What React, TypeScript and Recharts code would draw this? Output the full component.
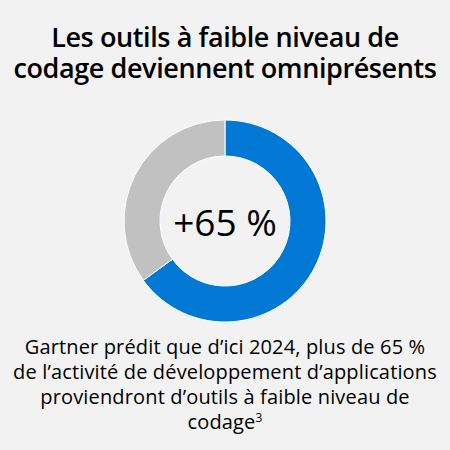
import { PieChart, Pie, Cell, Label } from "recharts";

const sliceNames = ["Outils à faible niveau de codage", "Autres"];
const sliceValues = [65, 35];
const sliceColors = ["#0078d4", "#c1c1c1"];

const titleLines = ["Les outils à faible niveau de", "codage deviennent omniprésents"];
const centerLabel = "+65 %";
const noteLines = [
    "Gartner prédit que d’ici 2024, plus de 65 %",
    "de l’activité de développement d’applications",
    "proviendront d’outils à faible niveau de",
];

const data = sliceNames.map((name, i) => ({ name, value: sliceValues[i] }));

const font = "'Open Sans', 'Noto Sans', sans-serif";

export default function App() {
    return (
        <div
            style={{
                position: "fixed",
                left: 0,
                top: 0,
                width: 450,
                height: 450,
                background: "#f2f2f2",
                fontFamily: font,
                color: "#000",
                overflow: "hidden",
            }}
        >
            <div
                style={{
                    position: "absolute",
                    top: 21,
                    left: 0,
                    width: 450,
                    textAlign: "center",
                    fontSize: 27,
                    fontWeight: 600,
                    lineHeight: "31px",
                    letterSpacing: -0.4,
                }}
            >
                {titleLines.map((l) => (
                    <div key={l}>{l}</div>
                ))}
            </div>

            <div style={{ position: "absolute", left: 0, top: 0 }}>
                <PieChart width={450} height={450} margin={{ top: 0, right: 0, bottom: 0, left: 0 }}>
                    <Pie
                        data={data}
                        dataKey="value"
                        nameKey="name"
                        cx={225}
                        cy={221}
                        innerRadius={65}
                        outerRadius={101}
                        startAngle={90}
                        endAngle={-270}
                        stroke="#ffffff"
                        strokeWidth={1}
                        isAnimationActive={false}
                    >
                        {data.map((d, i) => (
                            <Cell key={d.name} fill={sliceColors[i]} />
                        ))}
                        <Label
                            value={centerLabel}
                            position="center"
                            fill="#000"
                            dy={-2}
                            style={{ fontSize: 37, fontFamily: font }}
                        />
                    </Pie>
                </PieChart>
            </div>

            <div
                style={{
                    position: "absolute",
                    top: 334,
                    left: 0,
                    width: 450,
                    textAlign: "center",
                    fontSize: 20,
                    lineHeight: "25px",
                    letterSpacing: 0.15,
                }}
            >
                {noteLines.map((l) => (
                    <div key={l}>{l}</div>
                ))}
                <div>
                    codage<sup style={{ fontSize: 12, verticalAlign: "top", lineHeight: "18px" }}>3</sup>
                </div>
            </div>
        </div>
    );
}
